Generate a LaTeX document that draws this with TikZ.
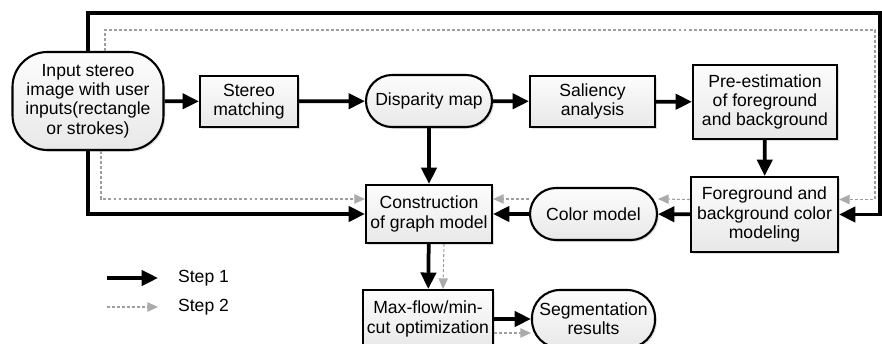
\documentclass[tikz,border=0pt]{standalone}
\usepackage{fontspec}
\setmainfont{Liberation Sans}
\usetikzlibrary{arrows.meta,shadows}

\tikzset{
    procbox/.style={rectangle, draw, line width=1.8pt, top color=black!1, bottom color=black!9,
        drop shadow={shadow xshift=1.5pt, shadow yshift=-1.5pt, opacity=0.25}, align=center, inner sep=1pt},
    termbox/.style={procbox, rounded corners=#1},
    termbox/.default=0.78cm,
    step1/.style={line width=3.2pt, -{Triangle[length=14pt,width=13pt]}},
    step2/.style={line width=0.9pt, draw=black!38, dash pattern=on 2.5pt off 1.8pt,
        -{Triangle[length=9pt,width=8pt,color=black!33,fill=black!33]}},
}

\begin{document}
\begin{tikzpicture}[x=0.03cm, y=-0.03cm, font=\fontsize{15pt}{16.4pt}\selectfont]
    \useasboundingbox (0,0) rectangle (882,344);

    % main row
    \node[termbox=1.05cm, minimum width=4.53cm, minimum height=2.94cm] (inp) at (88,101)
        {Input stereo\\image with user\\inputs(rectangle\\or strokes)};
    \node[procbox, minimum width=2.94cm, minimum height=1.53cm] (stereo) at (249,101.5) {Stereo\\matching};
    \node[termbox, minimum width=3.78cm, minimum height=1.56cm] (disp) at (429,101) {Disparity map};
    \node[procbox, minimum width=3.75cm, minimum height=1.53cm] (sal) at (592.5,101.5) {Saliency\\analysis};
    \node[procbox, minimum width=4.32cm, minimum height=2.22cm] (pre) at (765,102)
        {Pre-estimation\\of foreground\\and background};

    % second row
    \node[procbox, minimum width=4.41cm, minimum height=2.25cm] (fbc) at (764.5,214.5)
        {Foreground and\\background color\\modeling};
    \node[termbox, minimum width=3.81cm, minimum height=1.56cm] (cm) at (593.5,214) {Color model};
    \node[procbox, minimum width=3.78cm, minimum height=1.74cm] (cons) at (429,214) {Construction\\of graph model};

    % bottom row (runs off the lower edge)
    \node[procbox, minimum width=3.9cm, minimum height=1.74cm] (mf) at (428,319) {Max-flow/min-\\cut optimization};
    \node[termbox=0.84cm, minimum width=3.69cm, minimum height=1.74cm] (seg) at (593.5,319) {Segmentation\\results};

    % step 1 flow
    \draw[step1] (inp) -- (stereo);
    \draw[step1] (stereo) -- (disp);
    \draw[step1] (disp) -- (sal);
    \draw[step1] (sal) -- (pre);
    \draw[step1] (disp) -- (cons);
    \draw[step1] (pre) -- (fbc);
    \draw[step1] (fbc) -- (cm);
    \draw[step1] (cm) -- (cons);
    \draw[step1] (cons) -- (mf);
    \draw[step1] (mf) -- (seg);
    \coordinate (tr1) at (880,13);
    \draw[step1] (inp.north) |- (tr1) |- (fbc.east);
    \draw[step1] (inp.south) |- (cons.west);

    % step 2 flow
    \coordinate (tr2) at (875,30);
    \draw[step2] ([xshift=0.51cm]inp.north) |- (tr2) |- ([yshift=0.45cm]fbc.east);
    \draw[step2] ([xshift=0.39cm]inp.south) |- ([yshift=0.45cm]cons.west);
    \draw[step2] ([yshift=0.45cm]fbc.west) -- ([yshift=0.45cm]cm.east);
    \draw[step2] ([yshift=0.45cm]cm.west) -- ([yshift=0.45cm]cons.east);
    \draw[step2] ([xshift=0.45cm]cons.south) -- ([xshift=0.45cm]mf.north);
    \draw[step2] ([yshift=-0.42cm]mf.east) -- ([yshift=-0.42cm]seg.west);

    % legend
    \coordinate (l1a) at (107,278);
    \coordinate (l1b) at (158,278);
    \coordinate (l2a) at (107,307);
    \coordinate (l2b) at (158,307);
    \draw[step1] (l1a) -- (l1b);
    \draw[step2] (l2a) -- (l2b);
    \node[anchor=west] (lab1) at (174,278) {Step 1};
    \node[anchor=west] (lab2) at (174,307) {Step 2};
\end{tikzpicture}
\end{document}
